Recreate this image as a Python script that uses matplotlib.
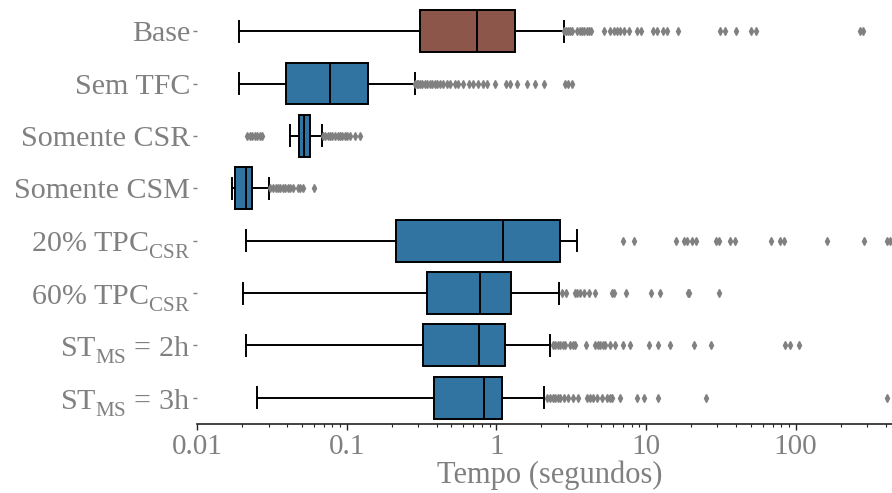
import matplotlib
matplotlib.use("Agg")
import matplotlib.pyplot as plt
from matplotlib.ticker import FixedLocator, LogLocator, NullFormatter

plt.rcParams['font.family'] = ['Liberation Serif', 'DejaVu Serif']
plt.rcParams['mathtext.fontset'] = 'custom'
plt.rcParams['mathtext.rm'] = 'Liberation Serif'
plt.rcParams['mathtext.it'] = 'Liberation Serif:italic'

categories = ["Base", "Sem TFC", "Somente CSR", "Somente CSM",
              "20% TPC$_\\mathregular{CSR}^{\\,}$", "60% TPC$_\\mathregular{CSR}^{\\,}$",
              "ST$_\\mathregular{MS}^{\\,}$ = 2h", "ST$_\\mathregular{MS}^{\\,}$ = 3h"]

whislo = [0.0191, 0.0191, 0.0419, 0.0171, 0.0212, 0.0201, 0.0212, 0.0251]
q1     = [0.31,   0.0392, 0.0481, 0.0180, 0.213,  0.343,  0.323,  0.380]
med    = [0.741,  0.0774, 0.0519, 0.0212, 1.115,  0.780,  0.759,  0.820]
q3     = [1.336,  0.138,  0.0564, 0.0232, 2.64,   1.256,  1.133,  1.089]
whishi = [2.81,   0.284,  0.0682, 0.0300, 3.45,   2.63,   2.29,   2.09]

fliers_base = [2.84, 2.9, 3.0, 3.1, 3.2, 3.45, 3.6, 3.73, 3.85, 4.03, 4.15, 4.28,
               5.2, 5.77, 6.13, 6.4, 6.65, 7.15, 7.72, 8.69, 9.29,
               11.2, 11.9, 12.9, 13.8, 16.3, 31.3, 33.8, 39.9, 50.5, 54.5, 270, 283]
fliers_semtfc = [0.287, 0.295, 0.30, 0.31, 0.32, 0.335, 0.345, 0.36, 0.37, 0.39,
                 0.40, 0.421, 0.44, 0.469, 0.49, 0.53, 0.556, 0.60, 0.658, 0.70,
                 0.755, 0.816, 0.868, 0.98, 1.15, 1.24, 1.38, 1.61, 1.82, 2.09,
                 2.88, 3.02, 3.21]
fliers_csr = [0.0216, 0.0225, 0.0233, 0.0243, 0.0252, 0.0262, 0.0272,
              0.069, 0.0717, 0.0745, 0.0774, 0.080, 0.0835, 0.087, 0.090,
              0.0935, 0.0974, 0.101, 0.105, 0.114, 0.123]
fliers_csm = [0.0308, 0.0322, 0.0335, 0.0347, 0.0359, 0.0373, 0.0388, 0.0403,
              0.0419, 0.0438, 0.0473, 0.0488, 0.0511, 0.0605]
fliers_20 = [7.01, 8.34, 15.8, 17.8, 18.9, 20.3, 21.6, 29.3, 30.5, 36.6, 39.1,
             68.8, 78.9, 83.0, 163, 288, 408, 429]
fliers_60 = [2.74, 2.93, 3.33, 3.47, 3.63, 3.82, 4.13, 4.57, 5.91, 6.12, 7.34,
             10.8, 12.3, 19.1, 19.5, 30.8]
fliers_st2 = [2.40, 2.47, 2.57, 2.67, 2.77, 2.88, 3.11, 3.25, 3.36, 3.98, 4.57, 4.75,
              4.94, 5.13, 5.33, 5.76, 6.22, 7.01, 7.84, 10.4, 12.0, 14.4, 21.0,
              27.2, 84.3, 91.1, 104.5]
fliers_st3 = [2.18, 2.29, 2.38, 2.47, 2.57, 2.67, 2.81, 3.02, 3.26, 3.52, 4.03,
              4.24, 4.44, 4.70, 5.07, 5.48, 5.70, 5.92, 6.73, 8.69, 9.62, 12.1,
              25.1, 408]
fliers = [fliers_base, fliers_semtfc, fliers_csr, fliers_csm,
          fliers_20, fliers_60, fliers_st2, fliers_st3]

colors = ["#8c564b"] + ["#3274a1"] * 7
xticks = [0.01, 0.1, 1, 10, 100]
xticklabels = ["0.01", "0.1", "1", "10", "100"]

stats = []
for i in range(len(categories)):
    stats.append(dict(whislo=whislo[i], q1=q1[i], med=med[i], q3=q3[i],
                      whishi=whishi[i], fliers=fliers[i]))

fig = plt.figure(figsize=(8.92, 4.93), dpi=100)
ax = fig.add_axes([0.221, 0.14, 0.779, 0.85])
ax.set_xscale('log')

lw = 1.4
bp = ax.bxp(stats, positions=list(range(len(categories))), widths=0.8,
            orientation='horizontal', patch_artist=True,
            boxprops=dict(edgecolor='black', linewidth=lw),
            medianprops=dict(color='black', linewidth=lw),
            whiskerprops=dict(color='black', linewidth=lw),
            capprops=dict(color='black', linewidth=lw),
            flierprops=dict(marker='d', markersize=4.2, markerfacecolor='gray',
                            markeredgecolor='gray', linestyle='none'))
for patch, c in zip(bp['boxes'], colors):
    patch.set_facecolor(c)

ax.set_ylim(len(categories) - 0.5, -0.5)
ax.set_xlim(0.01, 440)
ax.set_yticks(list(range(len(categories))))
ax.set_yticklabels(categories)
ax.xaxis.set_major_locator(FixedLocator(xticks))
ax.set_xticklabels(xticklabels)
ax.xaxis.set_minor_locator(LogLocator(base=10, subs=[2, 3, 4, 5, 6, 7, 8, 9]))
ax.xaxis.set_minor_formatter(NullFormatter())

grey = '#808080'
ax.tick_params(axis='y', labelsize=21.6, labelcolor=grey, color=grey, length=3, width=1, pad=2)
ax.tick_params(axis='x', which='major', labelsize=21, labelcolor=grey, color='#222222',
               length=4, width=1, pad=3)
ax.tick_params(axis='x', which='minor', color='#222222', length=2.5, width=0.8)
for s in ['top', 'right', 'left']:
    ax.spines[s].set_visible(False)
ax.spines['bottom'].set_color('#222222')
ax.spines['bottom'].set_linewidth(1.2)
ax.set_xlabel("Tempo (segundos)", fontsize=22, color=grey)
ax.xaxis.set_label_coords(0.507, -0.087)
ax.xaxis.label.set_va('top')

fig.savefig("out.png", dpi=100)
